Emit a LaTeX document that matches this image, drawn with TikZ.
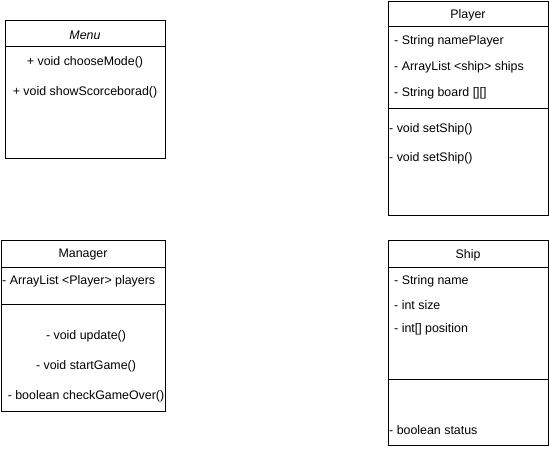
\documentclass[tikz,border=0pt]{standalone}
\usepackage{fontspec}
\setmainfont{Liberation Sans}
\begin{document}
\begin{tikzpicture}[x=1pt,y=-1pt,
  classbox/.style={draw=black,line width=0.8pt,fill=white,rectangle,anchor=north west,inner sep=0pt},
  txt/.style={inner sep=0pt,yshift=-0.8pt,font=\fontsize{12.4}{14}\selectfont},
  lefttxt/.style={txt,anchor=west},
  divider/.style={draw=black,line width=0.8pt}]
\useasboundingbox (0,0) rectangle (549,450);
\fill[white] (0,0) rectangle (549,450);

% Menu
\node[classbox,minimum width=160pt,minimum height=138pt] (menu) at (5,20) {};
\coordinate (menuDl) at (5,46); \coordinate (menuDr) at (165,46);
\draw[divider] (menuDl) -- (menuDr);
\node[txt,font=\fontsize{12.4}{14}\selectfont\itshape] (menuT) at (85,34) {Menu};
\node[txt] (menuM1) at (85,61) {+ void chooseMode()};
\node[txt] (menuM2) at (85,91) {+ void showScorceborad()};

% Player
\node[classbox,minimum width=160pt,minimum height=214pt] (player) at (388,1) {};
\coordinate (plD1l) at (388,26); \coordinate (plD1r) at (548,26);
\coordinate (plD2l) at (388,108); \coordinate (plD2r) at (548,108);
\draw[divider] (plD1l) -- (plD1r);
\draw[divider] (plD2l) -- (plD2r);
\node[txt] (plT) at (468,14) {Player};
\node[lefttxt] (plA1) at (394,40) {- String namePlayer};
\node[lefttxt] (plA2) at (394,66) {- ArrayList <ship> ships};
\node[lefttxt] (plA3) at (394,92) {- String board [][]};
\node[lefttxt] (plM1) at (389,128) {- void setShip()};
\node[lefttxt] (plM2) at (389,157) {- void setShip()};

% Manager
\node[classbox,minimum width=164pt,minimum height=171pt] (manager) at (1,240) {};
\coordinate (maD1l) at (1,267); \coordinate (maD1r) at (165,267);
\coordinate (maD2l) at (1,304); \coordinate (maD2r) at (165,304);
\draw[divider] (maD1l) -- (maD1r);
\draw[divider] (maD2l) -- (maD2r);
\node[txt] (maT) at (83,254) {Manager};
\node[lefttxt] (maA1) at (2,280) {- ArrayList <Player> players};
\node[txt] (maM1) at (86,335) {- void update()};
\node[txt] (maM2) at (86,365) {- void startGame()};
\node[txt] (maM3) at (86,395) {- boolean checkGameOver()};

% Ship
\node[classbox,minimum width=160pt,minimum height=205pt] (ship) at (388,240) {};
\coordinate (shD1l) at (388,267); \coordinate (shD1r) at (548,267);
\coordinate (shD2l) at (388,379); \coordinate (shD2r) at (548,379);
\draw[divider] (shD1l) -- (shD1r);
\draw[divider] (shD2l) -- (shD2r);
\node[txt] (shT) at (468,254) {Ship};
\node[lefttxt] (shA1) at (394,280) {- String name};
\node[lefttxt] (shA2) at (394,304) {- int size};
\node[lefttxt] (shA3) at (394,328) {- int[] position};
\node[lefttxt] (shM1) at (389,429) {- boolean status};
\end{tikzpicture}
\end{document}
